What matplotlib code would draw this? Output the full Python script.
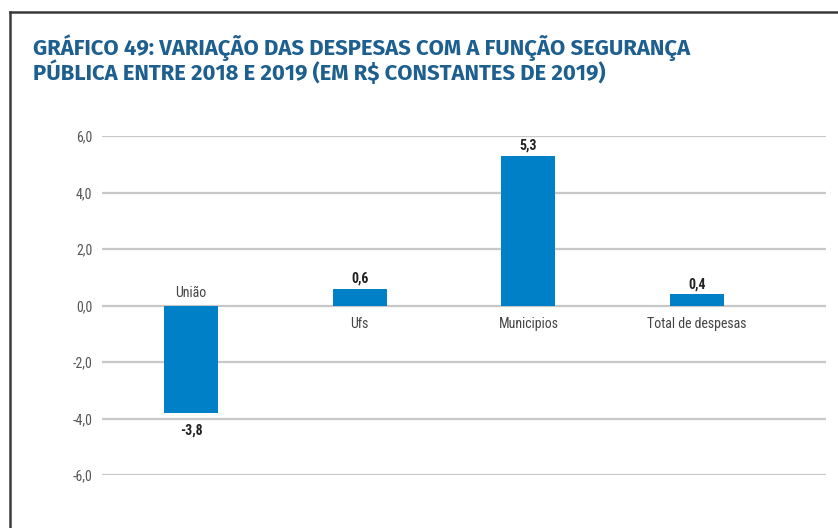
import matplotlib.pyplot as plt
from matplotlib.lines import Line2D

# dados do gráfico
categorias = ["União", "Ufs", "Municipios", "Total de despesas"]
valores = [-3.8, 0.6, 5.3, 0.4]
yticks = [-6, -4, -2, 0, 2, 4, 6]

fonte_titulo = ["Fira Sans", "Fira Sans Condensed", "DejaVu Sans"]
fonte = ["Roboto Condensed", "DejaVu Sans"]
plt.rcParams["font.family"] = fonte

W, H = 838, 528
fig = plt.figure(figsize=(W / 100, H / 100), dpi=100)
fig.patch.set_facecolor("white")

# moldura
fig.add_artist(Line2D([10 / W, 10 / W], [0, 1 - 12 / H], color="#3a3a3a", lw=1.8))
fig.add_artist(Line2D([10 / W, 1], [1 - 12 / H, 1 - 12 / H], color="#3a3a3a", lw=1.8))

# título
fig.text(33 / W, 1 - 59 / H,
         "GRÁFICO 49: VARIAÇÃO DAS DESPESAS COM A FUNÇÃO SEGURANÇA\n"
         "PÚBLICA ENTRE 2018 E 2019 (EM R$ CONSTANTES DE 2019)",
         color="#1d5f8f", fontsize=15.9, fontweight="bold", va="center",
         linespacing=0.93, family=fonte_titulo)

ax = fig.add_axes([102 / W, 53 / H, (826 - 102) / W, 339 / H])

x = range(len(categorias))
ax.bar(x, valores, width=0.32, color="#0080c6", zorder=3)
ax.set_xlim(-0.527, 3.763)
ax.set_ylim(-6, 6)
ax.set_yticks(yticks)
ax.set_yticklabels([f"{v:.1f}".replace(".", ",") for v in yticks], color="#555555", fontsize=10)
ax.tick_params(axis="y", length=0, pad=7)
ax.set_xticks([])
for s in ax.spines.values():
    s.set_visible(False)
ax.grid(axis="y", color="#c8c8c8", lw=1.6, zorder=0)

for i, v in enumerate(valores):
    lab = f"{v:.1f}".replace(".", ",")
    if v >= 0:
        ax.annotate(lab, (i, v), xytext=(0, 2), textcoords="offset points",
                    ha="center", va="bottom", fontsize=10, fontweight="bold", color="#222222")
        ax.annotate(categorias[i], (i, 0), xytext=(0, -8), textcoords="offset points",
                    ha="center", va="top", fontsize=10, color="#444444")
    else:
        ax.annotate(lab, (i, v), xytext=(0, -8), textcoords="offset points",
                    ha="center", va="top", fontsize=10, fontweight="bold", color="#222222")
        ax.annotate(categorias[i], (i, 0), xytext=(0, 4), textcoords="offset points",
                    ha="center", va="bottom", fontsize=10, color="#444444")

fig.savefig("out.png", dpi=100)
